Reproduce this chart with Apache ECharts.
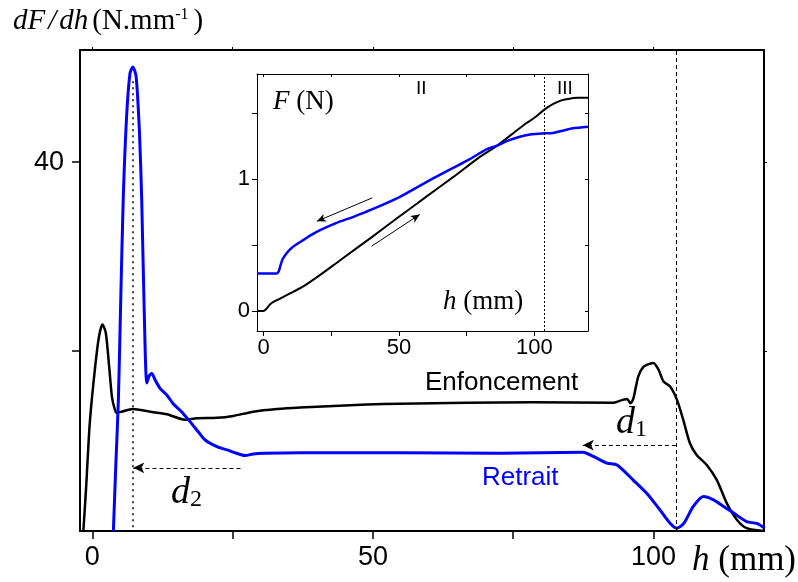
<!DOCTYPE html>
<html>
<head>
<meta charset="utf-8">
<script src="https://cdn.jsdelivr.net/npm/echarts@6/dist/echarts.min.js"></script>
<style>
    html, body { margin: 0; padding: 0; background: #fff; }
    #chart { width: 798px; height: 582px; }
</style>
</head>
<body>
<div id="chart"></div>
<script>
    // ---- main plot : dF/dh (N.mm-1) against h (mm) ----
    // Enfoncement (black)
    var enfH = [-1.6, -1.1, -0.5, 0.2, 1.1, 1.8, 2.4, 3.0, 3.5, 4.0, 4.35, 5.2, 7.2, 10.3, 13.3, 16.5, 18.6, 22.2, 25.1, 28.7, 32.9, 37.0, 43.0, 48.9, 54.8, 66.7, 78.6, 92.9, 94.5, 95.3, 95.9, 96.4, 97.3, 98.2, 99.2, 100.0, 100.9, 101.8, 103.0, 104.2, 105.3, 106.5, 107.7, 109.5, 111.3, 113.1, 114.9, 116.6, 119.6];
    var enfV = [0.9, 5.6, 12.0, 16.6, 21.2, 22.8, 21.9, 18.3, 15.1, 13.8, 13.45, 13.55, 13.84, 13.55, 13.28, 12.7, 12.85, 12.9, 13.1, 13.55, 13.84, 14.0, 14.15, 14.3, 14.4, 14.5, 14.55, 14.5, 14.8, 14.9, 14.45, 14.9, 17.3, 18.3, 18.6, 18.7, 18.0, 16.75, 16.2, 14.8, 12.7, 10.2, 8.96, 7.9, 6.3, 3.8, 2.07, 1.2, 0.9];
    // Retrait (blue)
    var retH = [3.75, 4.17, 4.64, 5.06, 5.5, 6.1, 6.7, 7.2, 7.8, 8.4, 8.8, 9.2, 9.7, 10.1, 10.6, 11.2, 12.1, 13.3, 14.4, 15.9, 17.4, 18.9, 20.1, 22.2, 24.0, 25.7, 27.2, 28.7, 30.5, 37.0, 54.8, 72.7, 87.4, 89.3, 91.7, 93.5, 96.4, 98.8, 101.2, 103.0, 104.2, 105.4, 107.1, 108.9, 110.7, 112.5, 114.3, 116.6, 118.4, 119.8];
    var retV = [0.9, 7.7, 14.8, 25.4, 36.0, 44.8, 49.4, 50.1, 49.1, 43.1, 36.0, 25.4, 16.6, 17.3, 17.6, 16.9, 16.0, 15.3, 14.4, 13.55, 12.5, 11.4, 10.55, 9.84, 9.5, 9.14, 8.9, 9.07, 9.14, 9.2, 9.2, 9.14, 9.25, 8.8, 8.1, 7.9, 6.3, 4.9, 3.1, 1.7, 1.2, 1.7, 3.5, 4.55, 4.2, 3.5, 2.8, 1.9, 1.7, 1.2];

    // ---- inset : F (N) against h (mm) ----
    var insEnfH = [-2.4, 0, 1, 2, 3, 5, 10, 15, 20, 28.3, 40, 50.4, 60, 70, 80, 86, 92, 97, 100, 103.8, 107, 110, 113, 116, 119.8];
    var insEnfV = [0, 0, 0.015, 0.04, 0.06, 0.083, 0.135, 0.19, 0.26, 0.385, 0.56, 0.72, 0.865, 1.015, 1.17, 1.25, 1.345, 1.423, 1.465, 1.529, 1.57, 1.597, 1.61, 1.616, 1.617];
    var insRetH = [-2.4, 4.9, 5.6, 6.2, 7, 8.6, 10.5, 12.5, 14.7, 17.5, 20.9, 27, 33.2, 40, 50.4, 56, 62.6, 70, 76, 82.3, 86, 90, 94.6, 99, 103.8, 106.9, 110, 114.2, 119.8];
    var insRetV = [0.284, 0.284, 0.30, 0.34, 0.39, 0.44, 0.48, 0.51, 0.537, 0.575, 0.613, 0.668, 0.714, 0.77, 0.866, 0.93, 1.005, 1.085, 1.15, 1.225, 1.252, 1.29, 1.321, 1.34, 1.347, 1.35, 1.365, 1.385, 1.397];

    // ticks
    var xTicks = [0, 25, 50, 75, 100];
    var xLabels = [0, 50, 100];
    var yTicks = [20, 40];
    var yLabels = [40];
    var insYTicks = [0, 0.5, 1, 1.5];
    var insYLabels = [0, 1];

    // annotation marks (data coords)
    var d2Line = [7.2, 1.3, 48.7];      // h, from, to
    var d1Line = [104, 0.9, 51.9];
    var d2Arrow = [26.4, 7.3, 7.6];      // from h, to h, level
    var d1Arrow = [104, 87.4, 10.0];
    var insLine = [103.8, -0.152, 1.797];
    var insArrowRet = [[40.2, 0.858], [19.7, 0.68]];
    var insArrowEnf = [[39.9, 0.491], [57.7, 0.732]];

    var BLUE = '#0000ff';
    var sans = 'Liberation Sans';
    var serif = 'Liberation Serif';

    function zip(a, b) {
        var out = [];
        for (var i = 0; i < a.length; i++) out.push([a[i], b[i]]);
        return out;
    }

    function vLine(v, style) {
        return [{ coord: [v[0], v[1]], symbol: 'none', lineStyle: style }, { coord: [v[0], v[2]], symbol: 'none' }];
    }

    function hArrow(a, style) {
        return [{ coord: [a[0], a[2]], symbol: 'none', lineStyle: style },
                { coord: [a[1], a[2]], symbol: 'arrow', symbolSize: [8, 11] }];
    }

    function arrow(p, style) {
        return [{ coord: p[0], symbol: 'none', lineStyle: style },
                { coord: p[1], symbol: 'arrow', symbolSize: [6, 9] }];
    }

    var chart = echarts.init(document.getElementById('chart'));

    chart.setOption({
        animation: false,
        textStyle: { fontFamily: sans },
        grid: [
            { left: 80, top: 50, width: 684, height: 481, containLabel: false },
            { left: 257, top: 74, width: 331, height: 257, show: true, backgroundColor: '#fff', borderWidth: 0 }
        ],
        xAxis: [
            {   // main bottom
                type: 'value', gridIndex: 0, position: 'bottom', min: -2.2, max: 119.7,
                axisLine: { show: true, onZero: false, lineStyle: { color: '#000', width: 2 } },
                axisTick: { show: true, customValues: xTicks, length: 8, lineStyle: { color: '#000', width: 1.5 } },
                axisLabel: { customValues: xLabels, color: '#000', fontSize: 27, fontFamily: sans, margin: 13 },
                splitLine: { show: false }
            },
            {   // main top mirror
                type: 'value', gridIndex: 0, position: 'top', min: -2.2, max: 119.7,
                axisLine: { show: true, onZero: false, lineStyle: { color: '#000', width: 2 } },
                axisTick: { show: true, customValues: xTicks, length: 3, lineStyle: { color: '#000' } },
                axisLabel: { show: false },
                splitLine: { show: false }
            },
            {   // inset bottom
                type: 'value', gridIndex: 1, position: 'bottom', min: -2.4, max: 119.8,
                axisLine: { show: true, onZero: false, lineStyle: { color: '#000', width: 1 } },
                axisTick: { show: true, customValues: xTicks, length: 5, lineStyle: { color: '#000' } },
                axisLabel: { customValues: xLabels, color: '#000', fontSize: 22, fontFamily: sans, margin: 6 },
                splitLine: { show: false }
            },
            {   // inset top mirror
                type: 'value', gridIndex: 1, position: 'top', min: -2.4, max: 119.8,
                axisLine: { show: true, onZero: false, lineStyle: { color: '#000', width: 1 } },
                axisTick: { show: true, inside: true, customValues: xTicks, length: 3, lineStyle: { color: '#000' } },
                axisLabel: { show: false },
                splitLine: { show: false }
            }
        ],
        yAxis: [
            {   // main left
                type: 'value', gridIndex: 0, position: 'left', min: 0.9, max: 51.9,
                axisLine: { show: true, onZero: false, lineStyle: { color: '#000', width: 2 } },
                axisTick: { show: true, customValues: yTicks, length: 8, lineStyle: { color: '#000', width: 1.5 } },
                axisLabel: { customValues: yLabels, color: '#000', fontSize: 27, fontFamily: sans, margin: 16 },
                splitLine: { show: false }
            },
            {   // main right mirror
                type: 'value', gridIndex: 0, position: 'right', min: 0.9, max: 51.9,
                axisLine: { show: true, onZero: false, lineStyle: { color: '#000', width: 2 } },
                axisTick: { show: true, customValues: yTicks, length: 3, lineStyle: { color: '#000' } },
                axisLabel: { show: false },
                splitLine: { show: false }
            },
            {   // inset left
                type: 'value', gridIndex: 1, position: 'left', min: -0.152, max: 1.797,
                axisLine: { show: true, onZero: false, lineStyle: { color: '#000', width: 1 } },
                axisTick: { show: true, customValues: insYTicks, length: 5, lineStyle: { color: '#000' } },
                axisLabel: { customValues: insYLabels, color: '#000', fontSize: 22, fontFamily: sans, margin: 7 },
                splitLine: { show: false }
            },
            {   // inset right mirror
                type: 'value', gridIndex: 1, position: 'right', min: -0.152, max: 1.797,
                axisLine: { show: true, onZero: false, lineStyle: { color: '#000', width: 1 } },
                axisTick: { show: true, inside: true, customValues: insYTicks, length: 3, lineStyle: { color: '#000' } },
                axisLabel: { show: false },
                splitLine: { show: false }
            }
        ],
        series: [
            {
                name: 'Enfoncement', type: 'line', xAxisIndex: 0, yAxisIndex: 0,
                data: zip(enfH, enfV), showSymbol: false, smooth: 0.25,
                lineStyle: { color: '#000', width: 2.5, join: 'round' },
                markLine: {
                    silent: true, animation: false, label: { show: false },
                    lineStyle: { color: '#000', width: 1, type: 'dashed' },
                    data: [
                        vLine(d1Line, { color: '#000', width: 1, type: [4, 3] }),
                        hArrow(d1Arrow, { color: '#000', width: 1, type: [4, 3] }),
                        hArrow(d2Arrow, { color: '#000', width: 1, type: [4, 3] })
                    ]
                }
            },
            {
                name: 'Retrait', type: 'line', xAxisIndex: 0, yAxisIndex: 0,
                data: zip(retH, retV), showSymbol: false, smooth: 0.25,
                lineStyle: { color: BLUE, width: 3, join: 'round' },
                markLine: {
                    silent: true, animation: false, label: { show: false },
                    data: [vLine(d2Line, { color: '#000', width: 1.5, type: [2, 4] })]
                }
            },
            {
                type: 'line', xAxisIndex: 2, yAxisIndex: 2,
                data: zip(insEnfH, insEnfV), showSymbol: false, smooth: 0.25,
                lineStyle: { color: '#000', width: 2, join: 'round' },
                markLine: {
                    silent: true, animation: false, label: { show: false },
                    data: [
                        vLine(insLine, { color: '#000', width: 1, type: [2, 2] }),
                        arrow(insArrowEnf, { color: '#000', width: 1, type: 'solid' })
                    ]
                }
            },
            {
                type: 'line', xAxisIndex: 2, yAxisIndex: 2,
                data: zip(insRetH, insRetV), showSymbol: false, smooth: 0.25,
                lineStyle: { color: BLUE, width: 2.5, join: 'round' },
                markLine: {
                    silent: true, animation: false, label: { show: false },
                    data: [arrow(insArrowRet, { color: '#000', width: 1, type: 'solid' })]
                }
            }
        ],
        graphic: [
            {   // y title
                type: 'text', left: 13, top: 7,
                style: {
                    text: '{i|dF}{g|/}{i|dh}{n|(N.mm}{s|-1}{n|)}',
                    rich: {
                        i: { fontFamily: serif, fontStyle: 'italic', fontSize: 29 },
                        g: { fontFamily: serif, fontStyle: 'italic', fontSize: 29, padding: [0, 3, 0, 3] },
                        n: { fontFamily: serif, fontSize: 29, padding: [0, 0, 0, 4] },
                        s: { fontFamily: serif, fontSize: 16, verticalAlign: 'top', padding: [0, 1, 8, 0] }
                    }
                }
            },
            {   // x title
                type: 'text', left: 692, top: 543,
                style: {
                    text: '{i|h}{n| (mm)}',
                    rich: {
                        i: { fontFamily: serif, fontStyle: 'italic', fontSize: 35 },
                        n: { fontFamily: serif, fontSize: 35 }
                    }
                }
            },
            {
                type: 'text', left: 425, top: 370,
                style: { text: 'Enfoncement', fontFamily: sans, fontSize: 26, fill: '#000' }
            },
            {
                type: 'text', left: 482, top: 465,
                style: { text: 'Retrait', fontFamily: sans, fontSize: 26, fill: BLUE }
            },
            {
                type: 'text', left: 171, top: 474,
                style: {
                    text: '{d|d}{s|2}',
                    rich: {
                        d: { fontFamily: serif, fontStyle: 'italic', fontSize: 38 },
                        s: { fontFamily: serif, fontSize: 24, verticalAlign: 'bottom' }
                    }
                }
            },
            {
                type: 'text', left: 616, top: 404,
                style: {
                    text: '{d|d}{s|1}',
                    rich: {
                        d: { fontFamily: serif, fontStyle: 'italic', fontSize: 38 },
                        s: { fontFamily: serif, fontSize: 24, verticalAlign: 'bottom' }
                    }
                }
            },
            {   // inset labels
                type: 'text', left: 273, top: 88, z: 10,
                style: {
                    text: '{i|F}{n| (N)}',
                    rich: {
                        i: { fontFamily: serif, fontStyle: 'italic', fontSize: 27 },
                        n: { fontFamily: serif, fontSize: 27 }
                    }
                }
            },
            {
                type: 'text', left: 443, top: 288, z: 10,
                style: {
                    text: '{i|h}{n| (mm)}',
                    rich: {
                        i: { fontFamily: serif, fontStyle: 'italic', fontSize: 27 },
                        n: { fontFamily: serif, fontSize: 27 }
                    }
                }
            },
            {
                type: 'text', left: 416, top: 79, z: 10,
                style: { text: 'II', fontFamily: sans, fontSize: 19, fill: '#000' }
            },
            {
                type: 'text', left: 557, top: 79, z: 10,
                style: { text: 'III', fontFamily: sans, fontSize: 19, fill: '#000' }
            }
        ]
    });
</script>
</body>
</html>
